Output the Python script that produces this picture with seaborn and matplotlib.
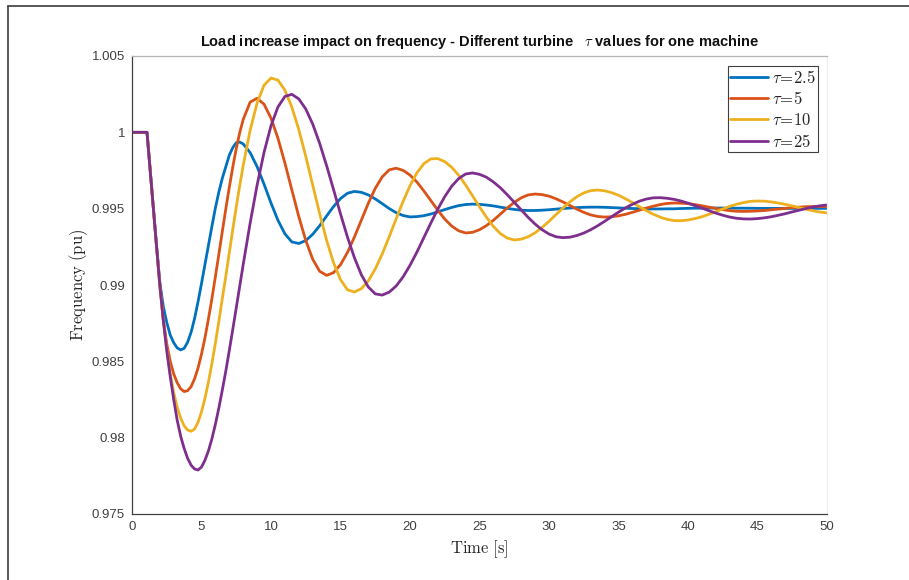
import numpy as np
import pandas as pd
import matplotlib
matplotlib.use("Agg")
import matplotlib.pyplot as plt
import seaborn as sns
from matplotlib.lines import Line2D

# Sample times [s]: 0.25 s spacing through the first dip, 0.5 s afterwards
time_s = np.concatenate([
    [0.0, 0.5, 1.0, 1.08],
    np.arange(1.25, 8.01, 0.25),
    np.arange(8.5, 50.01, 0.5),
])

# Frequency (pu) for each turbine time constant
freq_tau_2_5 = [
    1.0, 1.0, 1.0, 1.0,
    0.99815, 0.99545, 0.99275, 0.99020, 0.98860, 0.98755, 0.98672, 0.98622,
    0.98588, 0.98575, 0.98585, 0.98625, 0.98690, 0.98780, 0.98890, 0.99010,
    0.99135, 0.99260, 0.99385, 0.99505, 0.99610, 0.99700, 0.99775, 0.99850,
    0.99900, 0.99932, 0.99936, 0.99924,
    0.99867, 0.99775, 0.99660, 0.99537, 0.99424, 0.99335, 0.99282, 0.99272,
    0.99291, 0.99332, 0.99388, 0.99452, 0.99514, 0.99566, 0.99601, 0.99613,
    0.99607, 0.99590, 0.99564, 0.99533, 0.99501, 0.99474, 0.99455, 0.99446,
    0.99448, 0.99454, 0.99465, 0.99479, 0.99494, 0.99508, 0.99520, 0.99527,
    0.99530, 0.99528, 0.99524, 0.99518, 0.99510, 0.99502, 0.99495, 0.99490,
    0.99488, 0.99488, 0.99490, 0.99493, 0.99497, 0.99501, 0.99504, 0.99507,
    0.99509, 0.99510, 0.99510, 0.99509, 0.99507, 0.99505, 0.99503, 0.99501,
    0.99500, 0.99498, 0.99498, 0.99498, 0.99499, 0.99499, 0.99501, 0.99502,
    0.99503, 0.99503, 0.99504, 0.99504, 0.99504, 0.99504, 0.99503, 0.99503,
    0.99503, 0.99502, 0.99502, 0.99502, 0.99502, 0.99502, 0.99502, 0.99502,
    0.99502, 0.99502, 0.99502, 0.99502,
]

freq_tau_5 = [
    1.0, 1.0, 1.0, 1.0,
    0.99815, 0.99542, 0.99270, 0.99005, 0.98775, 0.98615, 0.98500, 0.98418,
    0.98360, 0.98320, 0.98302, 0.98308, 0.98334, 0.98385, 0.98456, 0.98547,
    0.98655, 0.98778, 0.98911, 0.99055, 0.99203, 0.99352, 0.99499, 0.99640,
    0.99772, 0.99893, 0.99998, 1.00084,
    1.00198, 1.00223, 1.00184, 1.00093, 0.99961, 0.99799, 0.99623, 0.99448,
    0.99292, 0.99169, 0.99090, 0.99063, 0.99081, 0.99133, 0.99213, 0.99314,
    0.99425, 0.99535, 0.99633, 0.99708, 0.99754, 0.99765, 0.99751, 0.99720,
    0.99674, 0.99616, 0.99553, 0.99490, 0.99432, 0.99386, 0.99355, 0.99341,
    0.99345, 0.99362, 0.99389, 0.99424, 0.99464, 0.99505, 0.99541, 0.99571,
    0.99590, 0.99596, 0.99592, 0.99582, 0.99565, 0.99544, 0.99521, 0.99497,
    0.99476, 0.99459, 0.99449, 0.99445, 0.99447, 0.99453, 0.99463, 0.99476,
    0.99490, 0.99504, 0.99516, 0.99527, 0.99534, 0.99537, 0.99536, 0.99533,
    0.99527, 0.99519, 0.99510, 0.99502, 0.99494, 0.99487, 0.99483, 0.99482,
    0.99483, 0.99485, 0.99488, 0.99493, 0.99497, 0.99502, 0.99507, 0.99510,
    0.99513, 0.99514, 0.99514, 0.99513,
]

freq_tau_10 = [
    1.0, 1.0, 1.0, 1.0,
    0.99815, 0.99542, 0.99270, 0.99000, 0.98772, 0.98578, 0.98420, 0.98295,
    0.98200, 0.98128, 0.98078, 0.98050, 0.98042, 0.98056, 0.98101, 0.98169,
    0.98258, 0.98365, 0.98486, 0.98620, 0.98763, 0.98913, 0.99058, 0.99212,
    0.99364, 0.99511, 0.99651, 0.99783,
    1.00014, 1.00192, 1.00309, 1.00356, 1.00342, 1.00276, 1.00165, 1.00018,
    0.99843, 0.99655, 0.99468, 0.99293, 0.99146, 0.99035, 0.98969, 0.98954,
    0.98976, 0.99027, 0.99105, 0.99203, 0.99315, 0.99433, 0.99547, 0.99650,
    0.99735, 0.99795, 0.99826, 0.99828, 0.99808, 0.99771, 0.99719, 0.99655,
    0.99584, 0.99512, 0.99444, 0.99384, 0.99337, 0.99307, 0.99295, 0.99300,
    0.99316, 0.99342, 0.99377, 0.99417, 0.99461, 0.99504, 0.99544, 0.99578,
    0.99603, 0.99618, 0.99622, 0.99617, 0.99605, 0.99588, 0.99565, 0.99540,
    0.99513, 0.99487, 0.99464, 0.99444, 0.99430, 0.99422, 0.99421, 0.99426,
    0.99435, 0.99447, 0.99463, 0.99480, 0.99498, 0.99515, 0.99529, 0.99540,
    0.99548, 0.99550, 0.99549, 0.99544, 0.99537, 0.99528, 0.99518, 0.99507,
    0.99496, 0.99486, 0.99478, 0.99472,
]

freq_tau_25 = [
    1.0, 1.0, 1.0, 1.0,
    0.99815, 0.99542, 0.99270, 0.99000, 0.98770, 0.98570, 0.98400, 0.98250,
    0.98115, 0.98010, 0.97930, 0.97865, 0.97820, 0.97795, 0.97788, 0.97808,
    0.97852, 0.97914, 0.97993, 0.98088, 0.98195, 0.98313, 0.98437, 0.98571,
    0.98709, 0.98850, 0.98992, 0.99134,
    0.99406, 0.99654, 0.99869, 1.00043, 1.00166, 1.00235, 1.00249, 1.00219,
    1.00153, 1.00054, 0.99928, 0.99782, 0.99625, 0.99466, 0.99314, 0.99179,
    0.99067, 0.98987, 0.98942, 0.98934, 0.98953, 0.98993, 0.99053, 0.99129,
    0.99216, 0.99311, 0.99406, 0.99497, 0.99579, 0.99647, 0.99697, 0.99727,
    0.99734, 0.99725, 0.99706, 0.99675, 0.99637, 0.99591, 0.99542, 0.99492,
    0.99443, 0.99399, 0.99362, 0.99334, 0.99316, 0.99310, 0.99313, 0.99324,
    0.99340, 0.99362, 0.99388, 0.99417, 0.99447, 0.99477, 0.99505, 0.99529,
    0.99549, 0.99563, 0.99571, 0.99572, 0.99568, 0.99561, 0.99550, 0.99536,
    0.99520, 0.99504, 0.99487, 0.99471, 0.99457, 0.99445, 0.99437, 0.99433,
    0.99432, 0.99435, 0.99440, 0.99447, 0.99457, 0.99467, 0.99479, 0.99490,
    0.99501, 0.99511, 0.99519, 0.99524,
]

series_labels = [r"$\tau\!=\!2.5$", r"$\tau\!=\!5$", r"$\tau\!=\!10$", r"$\tau\!=\!25$"]
series_values = [freq_tau_2_5, freq_tau_5, freq_tau_10, freq_tau_25]
line_colors = ["#0072BD", "#D95319", "#EDB120", "#7E2F8E"]

x_ticks = [0, 5, 10, 15, 20, 25, 30, 35, 40, 45, 50]
y_ticks = [0.975, 0.98, 0.985, 0.99, 0.995, 1.0, 1.005]
y_tick_labels = ["0.975", "0.98", "0.985", "0.99", "0.995", "1", "1.005"]

df = pd.concat(
    [pd.DataFrame({"Time": time_s, "Frequency": vals, "Turbine": lab})
     for lab, vals in zip(series_labels, series_values)],
    ignore_index=True,
)

sns.set_theme(style="white")
plt.rcParams["font.family"] = ["Liberation Sans", "DejaVu Sans"]
plt.rcParams["mathtext.fontset"] = "cm"

fig = plt.figure(figsize=(9.09, 5.80), dpi=100)
fig.patch.set_facecolor("white")
ax = fig.add_axes([132 / 909, 1 - 514 / 580, (827 - 132) / 909, (514 - 56) / 580])

sns.lineplot(data=df, x="Time", y="Frequency", hue="Turbine", palette=line_colors,
             hue_order=series_labels, linewidth=2.0, sort=False, estimator=None, ax=ax)

ax.set_xlim(0, 50)
ax.set_ylim(0.975, 1.005)
ax.set_xticks(x_ticks)
ax.set_xticklabels([str(v) for v in x_ticks])
ax.set_yticks(y_ticks)
ax.set_yticklabels(y_tick_labels)
ax.tick_params(direction="in", length=4, width=0.8, colors="#404040",
               labelsize=9.5, top=False, right=False, pad=5)

for side in ("left", "bottom"):
    ax.spines[side].set_color("#404040")
    ax.spines[side].set_linewidth(0.9)
ax.spines["top"].set_color("#b4b4b4")
ax.spines["top"].set_linewidth(0.9)
ax.spines["right"].set_color("#eeeeee")
ax.spines["right"].set_linewidth(0.9)

ax.set_xlabel(r"$\mathrm{Time\ [s]}$", fontsize=12, color="#262626", labelpad=4)
ax.set_ylabel(r"$\mathrm{Frequency\ (pu)}$", fontsize=12, color="#262626", labelpad=1)
ax.set_title("Load increase impact on frequency - Different turbine   $\\tau$ values for one machine",
             fontsize=10.5, fontweight="bold", color="#111111", pad=7)

handles = [Line2D([0], [0], color=c, lw=2.0) for c in line_colors]
leg = ax.legend(handles, series_labels, loc="upper right", bbox_to_anchor=(0.987, 0.978),
                borderaxespad=0, fontsize=12, frameon=True, fancybox=False, framealpha=1,
                edgecolor="#404040", handlelength=2.3, handletextpad=0.2,
                labelspacing=0.28, borderpad=0.15)
leg.get_frame().set_linewidth(0.8)

# outer frame of the figure window
fig.add_artist(Line2D([8 / 909, 8 / 909], [0, 1 - 6 / 580], transform=fig.transFigure,
                      color="#3c3c3c", lw=1.2))
fig.add_artist(Line2D([8 / 909, 1], [1 - 6 / 580, 1 - 6 / 580], transform=fig.transFigure,
                      color="#3c3c3c", lw=1.2))

fig.savefig("out.png", dpi=100, facecolor="white")
